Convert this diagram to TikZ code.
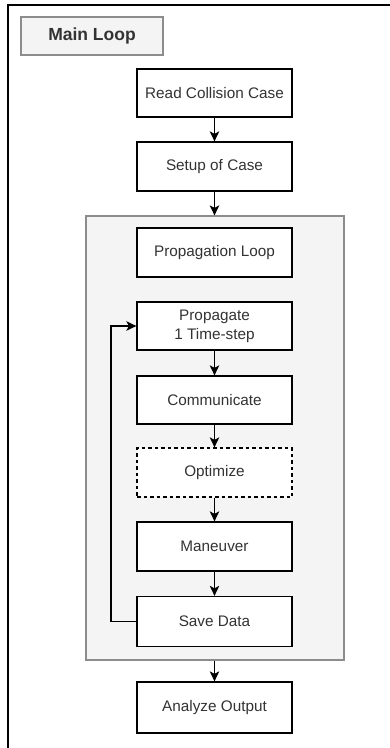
\documentclass[tikz,border=0pt]{standalone}
\usepackage{fontspec}
\setmainfont{Liberation Sans}
\usetikzlibrary{arrows.meta}
\definecolor{txt}{HTML}{333333}
\definecolor{panel}{HTML}{F4F4F4}
\definecolor{panelline}{HTML}{8C8C8C}
\tikzset{
  stepbox/.style={draw=black, line width=1.3pt, fill=white, minimum width=155pt, minimum height=48pt, inner sep=0pt, text=txt, font=\fontsize{15.3}{19}\selectfont, align=center},
  flow/.style={draw=black, line width=1.3pt, -{Stealth[length=10pt,width=9.5pt,inset=2.5pt]}},
}
\begin{document}
\begin{tikzpicture}[x=1pt,y=-1pt]
\useasboundingbox (0,0) rectangle (390,748);
% outer frame (right and bottom edges fall outside the view)
\draw[line width=1.6pt, black] (8,760) -- (8,5) -- (400,5);
% title
\node[draw=panelline, fill=panel, line width=1.2pt, minimum width=142pt, minimum height=38pt, inner sep=0pt, text=txt, font=\fontsize{17.5}{20}\selectfont\bfseries] (title) at (92,36) {Main Loop};
% container
\node[draw=panelline, fill=panel, line width=1.2pt, minimum width=258pt, minimum height=444pt, inner sep=0pt] (cont) at (215,438) {};
\node[stepbox] (read) at (214.5,93) {Read Collision Case};
\node[stepbox, minimum height=49pt] (setup) at (214.5,166.5) {Setup of Case};
\node[stepbox, minimum height=49pt] (ploop) at (214.5,252.5) {Propagation Loop};
\node[stepbox] (prop) at (214.5,326) {Propagate\\1 Time-step};
\node[stepbox] (comm) at (214.5,400) {Communicate};
\node[stepbox, dashed, dash pattern=on 3.5pt off 3pt, minimum height=49pt] (opt) at (214.5,472.5) {Optimize};
\node[stepbox, minimum height=49pt] (man) at (214.5,546.5) {Maneuver};
\node[stepbox, minimum height=50pt] (save) at (214.5,621.5) {Save Data};
\node[stepbox, minimum height=51pt] (ana) at (214.5,707.5) {Analyze Output};
% connectors
\draw[flow] (read) -- (setup);
\draw[flow] (setup) -- (cont.north -| setup);
\draw[flow] (prop) -- (comm);
\draw[flow] (comm) -- (opt);
\draw[flow] (opt) -- (man);
\draw[flow] (man) -- (save);
\draw[flow] (cont.south -| ana) -- (ana);
\coordinate (lb) at (111,621.5);
\coordinate (lt) at (111,326);
\draw[flow] (save.west) -- (lb) -- (lt) -- (prop.west);
\end{tikzpicture}
\end{document}
